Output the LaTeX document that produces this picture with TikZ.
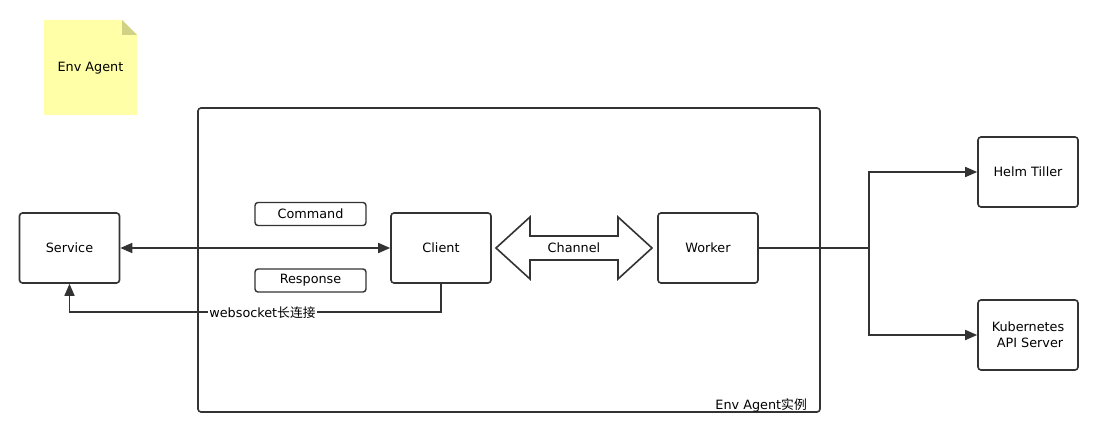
\documentclass[tikz,border=0pt]{standalone}
\usepackage{fontspec}
\setmainfont{DejaVu Sans}
\newfontfamily\cjk{Noto Sans CJK SC}
\usetikzlibrary{arrows.meta,positioning}
\definecolor{ink}{HTML}{333333}
\definecolor{notefill}{HTML}{FFFFA8}
\definecolor{notefold}{HTML}{D2D286}
\tikzset{
  txt/.style={font=\fontsize{12.8}{16}\selectfont, text=black},
  box/.style={draw=ink, line width=1.6pt, rounded corners=3pt, fill=white,
              minimum width=100pt, minimum height=70pt, inner sep=0pt, txt, align=center},
  tag/.style={draw=ink, line width=1.4pt, rounded corners=3pt, fill=white,
              minimum width=111pt, minimum height=23pt, inner sep=0pt, txt},
  conn/.style={draw=ink, line width=1.6pt},
  tip/.style={-{Triangle[length=12pt,width=10pt]}},
}
\begin{document}
\begin{tikzpicture}[x=1pt,y=-1pt]
\useasboundingbox (0,0) rectangle (1099,433);

% sticky note with folded corner
\fill[notefill] (44,20) -- (122,20) -- (137,35) -- (137,115) -- (44,115) -- cycle;
\fill[notefold] (122,20) -- (137,35) -- (122,35) -- cycle;
\node[txt] (note) at (90.5,68.5) {Env Agent};

% agent container
\draw[ink, line width=1.6pt, rounded corners=3pt] (198,108) rectangle (820,412);
\node[txt, anchor=south east, inner sep=1pt] (agentlbl) at (808,413) {Env Agent{\cjk 实例}};

% components
\node[box] (service) at (69.5,248) {Service};
\node[box] (client)  at (441,248) {Client};
\node[box] (worker)  at (708,248) {Worker};
\node[box] (helm)    at (1028,172) {Helm Tiller};
\node[box] (k8s)     at (1028,335) {Kubernetes\\\ API Server};

\node[tag] (cmd)  at (310.5,214) {Command};
\node[tag] (resp) at (310.5,280.5) {Response};

% channel double arrow
\draw[ink, line width=1.6pt, fill=white, line join=miter]
  (496,248) -- (530,217) -- (530,236) -- (618,236) -- (618,217) -- (652,248)
  -- (618,279) -- (618,260) -- (530,260) -- (530,279) -- cycle;
\node[txt] (chan) at (574,248) {Channel};

% service <-> client
\draw[conn, {Triangle[length=12pt,width=10pt]}-{Triangle[length=12pt,width=10pt]}]
  (service.east) -- (client.west);

% websocket long connection
\coordinate (wsR) at (441,312);
\coordinate (wsL) at (69.5,312);
\draw[conn, tip] (client.south) -- (wsR) -- (wsL) -- (service.south);
\node[txt, fill=white, inner sep=1pt] (ws) at (262.5,313) {websocket{\cjk 长连接}};

% worker fan-out
\coordinate (split) at (869,248);
\draw[conn] (worker.east) -- (split);
\draw[conn, tip] (split) |- (helm.west);
\draw[conn, tip] (split) |- (k8s.west);
\end{tikzpicture}
\end{document}
